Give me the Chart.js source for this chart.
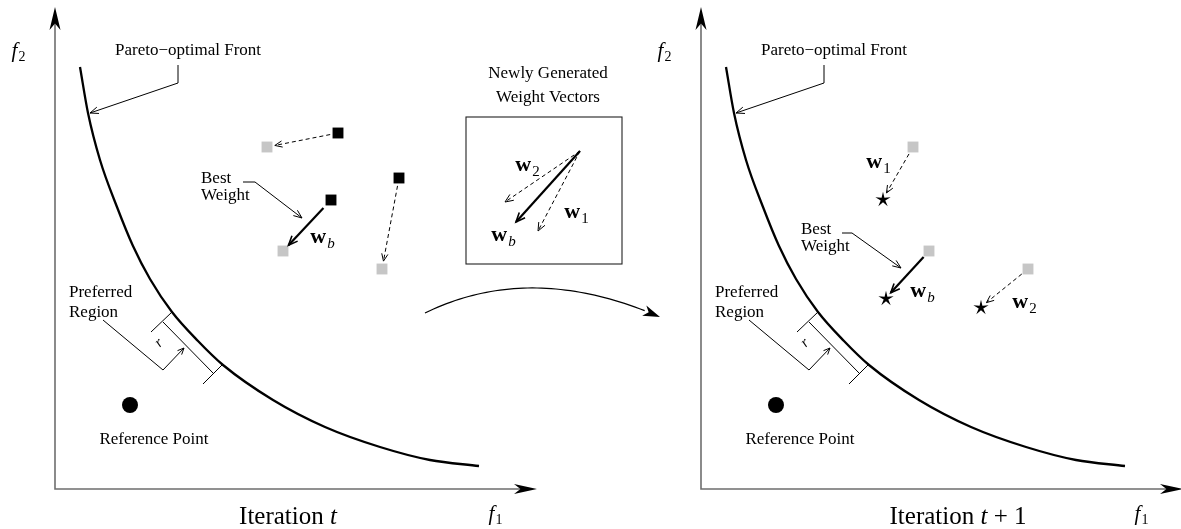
<!DOCTYPE html>
<html><head><meta charset="utf-8">
<script src="https://cdn.jsdelivr.net/npm/chart.js@4/dist/chart.umd.min.js"></script>
<style>html,body{margin:0;padding:0;background:#fff;overflow:hidden}#wrap{width:1181px;height:529px;position:relative}</style>
</head><body><div id="wrap"><canvas id="c"></canvas></div>
<script>
// ---------- DATA (objective space: origin at the axis corner, f1 right, f2 up) ----------
const AXIS_F1_LEN = 482;
const AXIS_F2_LEN = 482;
// Pareto-optimal front
const FRONT_F1 = [25, 33, 45, 62, 78, 95, 117, 143, 168, 218, 270, 325, 375, 424];
const FRONT_F2 = [422, 376, 329, 282, 243, 210, 177, 148, 124, 89, 62, 42, 29, 23];
// reference point
const REF_F1 = [75];
const REF_F2 = [84];
// weight vectors, order: w1, w2, wb
const W_NAMES = ['1', '2', 'b'];
const W_OLD_F1 = [283, 344, 276];   // iteration t, black squares
const W_OLD_F2 = [356, 311, 289];
const W_NEW_F1 = [212, 327, 228];   // newly generated, grey squares
const W_NEW_F2 = [342, 220, 238];
const W_NEXT_F1 = [182, 280, 185];  // iteration t+1, stars
const W_NEXT_F2 = [290, 182, 191];
// weight labels (iteration t: only wb; iteration t+1: w1, w2, wb)
const LBL_T_F1 = [null, null, 267];
const LBL_T_F2 = [null, null, 251];
const LBL_T1_F1 = [177, 323, 221];
const LBL_T1_F2 = [326, 186, 197];
// inset box "Newly Generated Weight Vectors"
const BOX_F1 = [411, 567];
const BOX_F2 = [225, 372];
const BOX_ORIGIN = [525, 338];
const BOX_TIP_F1 = [483, 450, 461];
const BOX_TIP_F2 = [258, 287, 267];
const BOX_LBL_F1 = [521, 472, 448];
const BOX_LBL_F2 = [276, 323, 253];
// preferred region annotation
const PREF_BRACKET = [[108, 167], [158, 116]];
const PREF_TICKS = [[[96, 157], [117, 177]], [[148, 105], [168, 125]]];
const PREF_POINTER = [[48, 169], [108, 119]];
const PREF_R_ARROW = [[108, 119], [129, 141]];
// callouts
const FRONT_CALLOUT = [[123, 424], [123, 406], [35, 376]];
const BEST_CALLOUT_T = [[188, 307], [200, 307], [247, 271]];
const BEST_CALLOUT_T1 = [[141, 256], [151, 256], [200, 221]];
// transition arrow between panels: start, top of the arc, end
const TRANSITION = [[370, 176], [482, 201], [605, 172]];
// texts
const TXT_FRONT = 'Pareto\u2212optimal Front';
const TXT_REF = 'Reference Point';
const TXT_PREF = ['Preferred', 'Region'];
const TXT_BEST = ['Best', 'Weight'];
const TXT_BOX = ['Newly Generated', 'Weight Vectors'];
const TXT_ITER = [[['Iteration ', ''], ['t', 'i']], [['Iteration ', ''], ['t', 'i'], [' + 1', '']]];

// ---------- helpers ----------
const SERIF = '"Liberation Serif", "DejaVu Serif", serif';
function starImage(r) {
  const s = Math.ceil(r * 2 + 2), c = document.createElement('canvas');
  c.width = s; c.height = s;
  const g = c.getContext('2d');
  g.translate(s / 2, s / 2 + 0.8);
  g.beginPath();
  for (let i = 0; i < 10; i++) {
    const rad = i % 2 === 0 ? r : r * 0.3;
    const a = -Math.PI / 2 + i * Math.PI / 5;
    g.lineTo(rad * Math.cos(a), rad * Math.sin(a));
  }
  g.closePath(); g.fillStyle = '#000'; g.fill();
  return c;
}
const zip = (a, b) => a.map((v, i) => ({x: v, y: b[i]}));

function P(chart, xId, pt) {
  return [chart.scales[xId].getPixelForValue(pt[0]), chart.scales.y.getPixelForValue(pt[1])];
}
function stealth(ctx, tip, from, len, hw) {
  const a = Math.atan2(tip[1] - from[1], tip[0] - from[0]);
  ctx.save(); ctx.translate(tip[0], tip[1]); ctx.rotate(a);
  ctx.beginPath(); ctx.moveTo(0, 0); ctx.lineTo(-len, -hw); ctx.lineTo(-len * 0.72, 0); ctx.lineTo(-len, hw);
  ctx.closePath(); ctx.fillStyle = '#000'; ctx.fill(); ctx.restore();
}
function openHead(ctx, tip, from, len, ang) {
  const a = Math.atan2(tip[1] - from[1], tip[0] - from[0]);
  ctx.beginPath();
  ctx.moveTo(tip[0] - len * Math.cos(a - ang), tip[1] - len * Math.sin(a - ang));
  ctx.lineTo(tip[0], tip[1]);
  ctx.lineTo(tip[0] - len * Math.cos(a + ang), tip[1] - len * Math.sin(a + ang));
  ctx.setLineDash([]); ctx.stroke();
}
function poly(ctx, pts, w, dash) {
  ctx.lineWidth = w; ctx.setLineDash(dash || []);
  ctx.beginPath(); pts.forEach((p, i) => i ? ctx.lineTo(p[0], p[1]) : ctx.moveTo(p[0], p[1])); ctx.stroke();
  ctx.setLineDash([]);
}
function trimmed(a, b, s, e) {
  const dx = b[0] - a[0], dy = b[1] - a[1], L = Math.hypot(dx, dy);
  return [[a[0] + dx / L * s, a[1] + dy / L * s], [b[0] - dx / L * e, b[1] - dy / L * e]];
}
function text(ctx, str, x, y, size, align, style) {
  ctx.font = (style || '') + ' ' + size + 'px ' + SERIF;
  ctx.textAlign = align || 'center'; ctx.textBaseline = 'middle';
  ctx.fillText(str, x, y);
}
function mathLabel(ctx, c, main, sub, size, bold, subItalic) {
  const mf = (bold ? 'bold ' : 'italic ') + size + 'px ' + SERIF;
  const ss = Math.round(size * 0.68);
  const sf = (subItalic ? 'italic ' : '') + ss + 'px ' + SERIF;
  ctx.font = mf; const w1 = ctx.measureText(main).width;
  ctx.font = sf; const w2 = ctx.measureText(sub).width;
  const x0 = c[0] - (w1 + w2) / 2, base = c[1] + size * 0.24;
  ctx.textAlign = 'left'; ctx.textBaseline = 'alphabetic';
  ctx.font = mf; ctx.fillText(main, x0, base);
  ctx.font = sf; ctx.fillText(sub, x0 + w1 + 1, base + size * 0.2);
}
function runs(ctx, c, parts, size) {
  const fonts = parts.map(p => (p[1] === 'i' ? 'italic ' : '') + size + 'px ' + SERIF);
  const ws = parts.map((p, i) => { ctx.font = fonts[i]; return ctx.measureText(p[0]).width; });
  let x = c[0] - ws.reduce((a, b) => a + b, 0) / 2;
  ctx.textAlign = 'left'; ctx.textBaseline = 'alphabetic';
  parts.forEach((p, i) => { ctx.font = fonts[i]; ctx.fillText(p[0], x, c[1]); x += ws[i]; });
}

function drawPanelCommon(chart, ctx, xId, iterParts, iterF1) {
  const O = P(chart, xId, [0, 0]);
  const TY = P(chart, xId, [0, AXIS_F2_LEN]);
  const TX = P(chart, xId, [AXIS_F1_LEN, 0]);
  // axes
  ctx.strokeStyle = '#6e6e6e'; ctx.lineWidth = 1.6;
  ctx.beginPath(); ctx.moveTo(TY[0], TY[1] + 12); ctx.lineTo(O[0], O[1]); ctx.lineTo(TX[0] - 12, TX[1]); ctx.stroke();
  stealth(ctx, TY, O, 23, 5.5);
  stealth(ctx, TX, O, 23, 5);
  ctx.fillStyle = '#000'; ctx.strokeStyle = '#000';
  mathLabel(ctx, P(chart, xId, [-37, 437]), 'f', '2', 21, false, false);
  mathLabel(ctx, P(chart, xId, [440, -26]), 'f', '1', 21, false, false);
  runs(ctx, P(chart, xId, [iterF1, -35]), iterParts, 25);
  // front callout
  ctx.lineWidth = 1;
  const fc = FRONT_CALLOUT.map(p => P(chart, xId, p));
  poly(ctx, fc, 1);
  openHead(ctx, fc[2], fc[1], 9, 0.38);
  text(ctx, TXT_FRONT, ...P(chart, xId, [133, 438]), 17);
  // preferred region
  poly(ctx, PREF_BRACKET.map(p => P(chart, xId, p)), 1);
  PREF_TICKS.forEach(t => poly(ctx, t.map(p => P(chart, xId, p)), 1));
  poly(ctx, PREF_POINTER.map(p => P(chart, xId, p)), 1);
  const ra = PREF_R_ARROW.map(p => P(chart, xId, p));
  poly(ctx, ra, 1); ctx.lineWidth = 1; openHead(ctx, ra[1], ra[0], 7, 0.42);
  const rl = P(chart, xId, [104, 146]);
  ctx.save(); ctx.translate(rl[0], rl[1]); ctx.rotate(-Math.PI / 4);
  text(ctx, 'r', 0, 0, 15, 'center', 'italic'); ctx.restore();
  text(ctx, TXT_PREF[0], ...P(chart, xId, [14, 196]), 17, 'left');
  text(ctx, TXT_PREF[1], ...P(chart, xId, [14, 176]), 17, 'left');
  text(ctx, TXT_REF, ...P(chart, xId, [99, 49]), 17);
}

const annotations = {
  id: 'annotations',
  afterDatasetsDraw(chart) {
    const ctx = chart.ctx;
    ctx.save();
    ctx.fillStyle = '#000'; ctx.strokeStyle = '#000';
    drawPanelCommon(chart, ctx, 'x', TXT_ITER[0], 233);
    drawPanelCommon(chart, ctx, 'x2', TXT_ITER[1], 257);

    // ---- iteration t: black squares -> grey squares
    for (let i = 0; i < 3; i++) {
      const a = P(chart, 'x', [W_OLD_F1[i], W_OLD_F2[i]]), b = P(chart, 'x', [W_NEW_F1[i], W_NEW_F2[i]]);
      const best = W_NAMES[i] === 'b';
      const [s, e] = trimmed(a, b, best ? 11 : 8, 8);
      ctx.strokeStyle = '#000';
      poly(ctx, [s, e], best ? 2.2 : 1, best ? [] : [4, 3]);
      ctx.lineWidth = best ? 1.6 : 1; openHead(ctx, e, s, best ? 10 : 8, 0.4);
      if (LBL_T_F1[i] !== null) mathLabel(ctx, P(chart, 'x', [LBL_T_F1[i], LBL_T_F2[i]]), 'w', W_NAMES[i], 22, true, best);
    }
    const bc = BEST_CALLOUT_T.map(p => P(chart, 'x', p));
    poly(ctx, bc, 1); openHead(ctx, bc[2], bc[1], 9, 0.38);
    text(ctx, TXT_BEST[0], ...P(chart, 'x', [146, 310]), 17, 'left');
    text(ctx, TXT_BEST[1], ...P(chart, 'x', [146, 293]), 17, 'left');

    // ---- inset box
    const b0 = P(chart, 'x', [BOX_F1[0], BOX_F2[1]]), b1 = P(chart, 'x', [BOX_F1[1], BOX_F2[0]]);
    ctx.lineWidth = 1.1; ctx.strokeStyle = '#222';
    ctx.strokeRect(b0[0], b0[1], b1[0] - b0[0], b1[1] - b0[1]);
    ctx.strokeStyle = '#000';
    text(ctx, TXT_BOX[0], ...P(chart, 'x', [493, 415]), 17);
    text(ctx, TXT_BOX[1], ...P(chart, 'x', [493, 391]), 17);
    const bo = P(chart, 'x', BOX_ORIGIN);
    for (let i = 0; i < 3; i++) {
      const t = P(chart, 'x', [BOX_TIP_F1[i], BOX_TIP_F2[i]]);
      const best = W_NAMES[i] === 'b';
      poly(ctx, [bo, t], best ? 2.2 : 1, best ? [] : [4, 3]);
      ctx.lineWidth = best ? 1.6 : 1; openHead(ctx, t, bo, best ? 10 : 9, 0.4);
      mathLabel(ctx, P(chart, 'x', [BOX_LBL_F1[i], BOX_LBL_F2[i]]), 'w', W_NAMES[i], 22, true, best);
    }

    // ---- transition arrow (quadratic curve through the arc top)
    const tr = TRANSITION.map(p => P(chart, 'x', p));
    const cx = 2 * tr[1][0] - (tr[0][0] + tr[2][0]) / 2, cy = 2 * tr[1][1] - (tr[0][1] + tr[2][1]) / 2;
    const q = (t) => [(1 - t) * (1 - t) * tr[0][0] + 2 * (1 - t) * t * cx + t * t * tr[2][0],
                      (1 - t) * (1 - t) * tr[0][1] + 2 * (1 - t) * t * cy + t * t * tr[2][1]];
    ctx.lineWidth = 1.2; ctx.beginPath(); ctx.moveTo(tr[0][0], tr[0][1]);
    for (let t = 0.02; t <= 0.95; t += 0.02) { const p = q(t); ctx.lineTo(p[0], p[1]); }
    ctx.stroke();
    stealth(ctx, tr[2], q(0.93), 17, 5.5);

    // ---- iteration t+1: grey squares -> stars
    for (let i = 0; i < 3; i++) {
      const a = P(chart, 'x2', [W_NEW_F1[i], W_NEW_F2[i]]), b = P(chart, 'x2', [W_NEXT_F1[i], W_NEXT_F2[i]]);
      const best = W_NAMES[i] === 'b';
      const [s, e] = trimmed(a, b, 8, 7);
      poly(ctx, [s, e], best ? 2.2 : 1, best ? [] : [4, 3]);
      ctx.lineWidth = best ? 1.6 : 1; openHead(ctx, e, s, best ? 10 : 8, 0.4);
      mathLabel(ctx, P(chart, 'x2', [LBL_T1_F1[i], LBL_T1_F2[i]]), 'w', W_NAMES[i], 22, true, best);
    }
    const bc2 = BEST_CALLOUT_T1.map(p => P(chart, 'x2', p));
    poly(ctx, bc2, 1); openHead(ctx, bc2[2], bc2[1], 9, 0.38);
    text(ctx, TXT_BEST[0], ...P(chart, 'x2', [100, 259]), 17, 'left');
    text(ctx, TXT_BEST[1], ...P(chart, 'x2', [100, 242]), 17, 'left');
    ctx.restore();
  }
};

const lineDs = (xId) => ({
  data: zip(FRONT_F1, FRONT_F2), xAxisID: xId, showLine: true, borderColor: '#000', borderWidth: 2.3,
  pointRadius: 0, cubicInterpolationMode: 'monotone', fill: false
});
const ptDs = (xId, f1, f2, style, r, color) => ({
  data: zip(f1, f2), xAxisID: xId, showLine: false, pointStyle: style, pointRadius: r,
  pointHoverRadius: r, backgroundColor: color, borderColor: color, borderWidth: 0
});

new Chart(document.getElementById('c'), {
  type: 'scatter',
  data: {
    datasets: [
      lineDs('x'), lineDs('x2'),
      ptDs('x', REF_F1, REF_F2, 'circle', 8, '#000'),
      ptDs('x2', REF_F1, REF_F2, 'circle', 8, '#000'),
      ptDs('x', W_OLD_F1, W_OLD_F2, 'rect', 7.7, '#000'),
      ptDs('x', W_NEW_F1, W_NEW_F2, 'rect', 7.7, '#c6c6c6'),
      ptDs('x2', W_NEW_F1, W_NEW_F2, 'rect', 7.7, '#c6c6c6'),
      ptDs('x2', W_NEXT_F1, W_NEXT_F2, starImage(8), 8, '#000')
    ]
  },
  options: {
    responsive: true, maintainAspectRatio: false, animation: false,
    layout: {padding: 0, autoPadding: false},
    plugins: {legend: {display: false}, tooltip: {enabled: false}},
    events: [],
    scales: {
      x: {type: 'linear', display: false, min: -55, max: 1126},
      x2: {type: 'linear', display: false, min: -701, max: 480},
      y: {type: 'linear', display: false, min: -40, max: 489}
    }
  },
  plugins: [annotations]
});
</script></body></html>
